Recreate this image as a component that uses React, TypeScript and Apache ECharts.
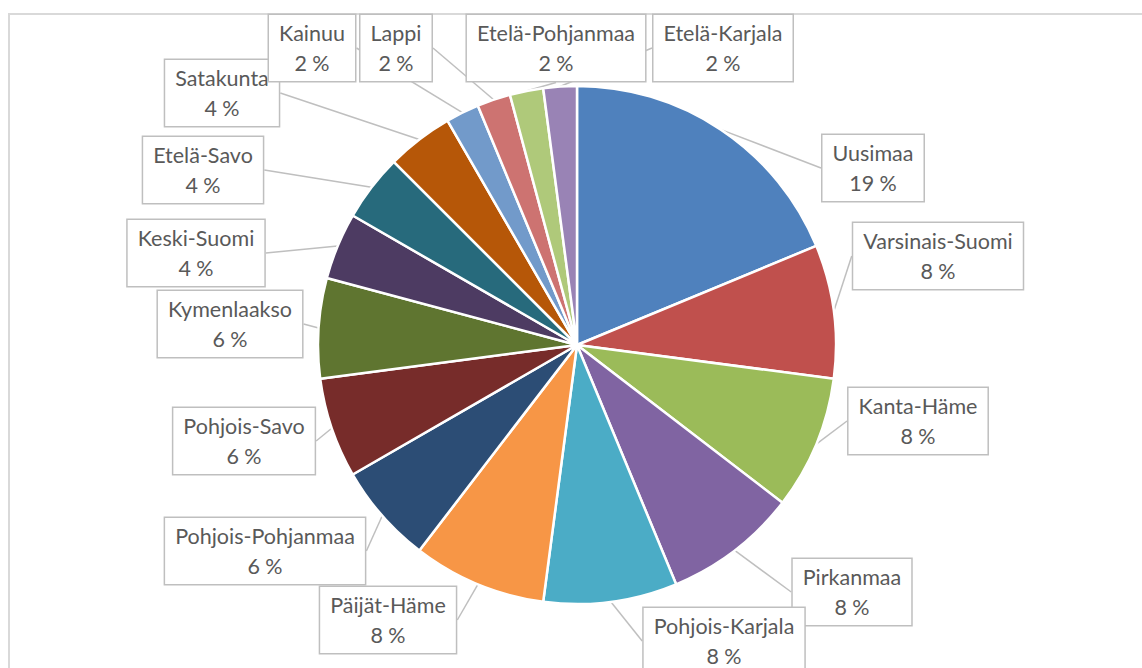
import React, { useEffect, useRef } from "react";
import * as echarts from "echarts";

const regions = [
  "Uusimaa",
  "Varsinais-Suomi",
  "Kanta-Häme",
  "Pirkanmaa",
  "Pohjois-Karjala",
  "Päijät-Häme",
  "Pohjois-Pohjanmaa",
  "Pohjois-Savo",
  "Kymenlaakso",
  "Keski-Suomi",
  "Etelä-Savo",
  "Satakunta",
  "Kainuu",
  "Lappi",
  "Etelä-Pohjanmaa",
  "Etelä-Karjala",
];

const counts = [9, 4, 4, 4, 4, 4, 3, 3, 3, 2, 2, 2, 1, 1, 1, 1];

const colors = [
  "#4F81BD",
  "#C0504D",
  "#9BBB59",
  "#8064A2",
  "#4BACC6",
  "#F79646",
  "#2C4D75",
  "#772C2A",
  "#5F7530",
  "#4D3B62",
  "#276A7C",
  "#B65708",
  "#729ACA",
  "#CD7371",
  "#AFC97A",
  "#9983B5",
];

// Callout box centres (label placement, px)
const labelCenters: [number, number][] = [
  [873, 168],
  [938, 256],
  [918, 421],
  [852, 592],
  [724, 641],
  [388, 620],
  [265, 551],
  [244, 441],
  [230, 324],
  [196, 253],
  [203, 170],
  [222, 93],
  [312, 48],
  [396, 48],
  [556, 48],
  [723, 48],
];

export default function App() {
  const ref = useRef<HTMLDivElement>(null);

  useEffect(() => {
    if (!ref.current) return;
    const chart = echarts.init(ref.current, undefined, { renderer: "svg" });
    const total = counts.reduce((a, b) => a + b, 0);

    chart.setOption({
      animation: false,
      backgroundColor: "#ffffff",
      graphic: [
        {
          type: "rect",
          shape: { x: 9, y: 14, width: 1200, height: 700 },
          style: { fill: "none", stroke: "#d9d9d9", lineWidth: 2 },
          silent: true,
          z: 0,
        },
      ],
      series: [
        {
          type: "pie",
          center: [577, 345],
          radius: 259,
          startAngle: 90,
          clockwise: true,
          avoidLabelOverlap: false,
          data: regions.map((name, i) => ({
            name,
            value: counts[i],
            itemStyle: { color: colors[i] },
          })),
          itemStyle: { borderColor: "#ffffff", borderWidth: 2.5 },
          label: {
            show: true,
            position: "outside",
            formatter: (p: any) =>
              `${p.name}\n${Math.round((p.value / total) * 100)} %`,
            fontFamily: "Lato, 'Open Sans', sans-serif",
            fontSize: 21.5,
            lineHeight: 30,
            color: "#595959",
            align: "center",
            backgroundColor: "#ffffff",
            borderColor: "#bfbfbf",
            borderWidth: 1.5,
            padding: [3, 10, 3, 10],
          },
          labelLine: {
            show: true,
            length: 8,
            length2: 0,
            lineStyle: { color: "#bfbfbf", width: 1.5 },
          },
          labelLayout: (params: any) => {
            const c = labelCenters[params.dataIndex];
            return {
              x: c[0],
              y: c[1],
              align: "center",
              verticalAlign: "middle",
            };
          },
        },
      ],
    });

    return () => chart.dispose();
  }, []);

  return (
    <div
      ref={ref}
      style={{ position: "fixed", left: 0, top: 0, width: 1142, height: 668 }}
    />
  );
}
